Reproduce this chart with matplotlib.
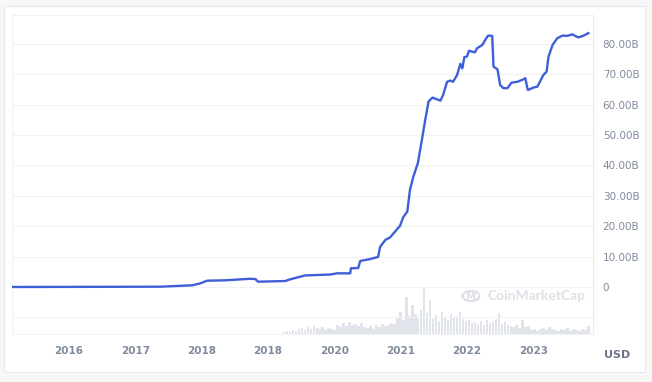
#!/usr/bin/env python3
# Market cap chart (CoinMarketCap style): line for market cap, light bars for volume.
import matplotlib

matplotlib.use("Agg")
import matplotlib.pyplot as plt
from matplotlib.patches import Circle, FancyBboxPatch
import numpy as np

# Market cap (billions USD) against fractional year
cap_t = [2015.15, 2017.37, 2017.86, 2017.98, 2018.08, 2018.35, 2018.58, 2018.73, 2018.81, 2018.85,
         2019.26, 2019.33, 2019.56, 2019.94, 2020.04, 2020.24, 2020.25, 2020.36, 2020.39, 2020.54,
         2020.66, 2020.69, 2020.77, 2020.84, 2020.95, 2020.99, 2021.04, 2021.10, 2021.14, 2021.19,
         2021.26, 2021.32, 2021.37, 2021.42, 2021.48, 2021.60, 2021.64, 2021.70, 2021.75, 2021.79,
         2021.85, 2021.90, 2021.93, 2021.96, 2022.00, 2022.03, 2022.12, 2022.15, 2022.23, 2022.29,
         2022.32, 2022.38, 2022.40, 2022.46, 2022.50, 2022.55, 2022.61, 2022.67, 2022.76, 2022.85,
         2022.88, 2022.91, 2022.92, 2023.00, 2023.06, 2023.10, 2023.15, 2023.20, 2023.23, 2023.29,
         2023.36, 2023.44, 2023.51, 2023.59, 2023.63, 2023.68, 2023.75, 2023.83]
cap_b = [0.0, 0.1, 0.56, 1.2, 2.07, 2.2, 2.5, 2.7, 2.6, 1.74,
         1.97, 2.5, 3.8, 4.1, 4.5, 4.5, 6.15, 6.25, 8.55, 9.2,
         9.9, 13.2, 15.5, 16.3, 19.1, 20.1, 23.0, 24.8, 31.9, 36.2,
         40.8, 48.4, 54.9, 61.0, 62.3, 61.3, 63.2, 67.5, 67.9, 67.5,
         69.7, 73.4, 71.9, 75.6, 75.8, 77.7, 77.2, 78.5, 79.6, 81.8,
         82.7, 82.6, 72.5, 71.6, 66.4, 65.4, 65.4, 67.2, 67.5, 68.3,
         68.7, 65.4, 64.8, 65.6, 65.9, 67.5, 69.7, 70.8, 75.8, 79.6,
         81.8, 82.7, 82.6, 83.1, 82.6, 82.1, 82.6, 83.5]

# Trading volume (billions USD), evenly spaced from 2019.24 to 2023.83
vol_start, vol_end = 2019.24, 2023.83
vol_b = [4, 6, 4, 8, 6,
         10, 12, 8, 14, 10, 16, 12, 10, 14, 8, 12, 10, 8,
         18, 14, 22, 16, 24, 18, 20, 16, 22, 14,
         12, 16, 10, 18, 14, 20, 16, 18, 22, 20,
         32, 44, 28, 74, 36, 58, 40, 34, 48, 94, 42, 68,
         30, 38, 26, 44, 34, 28, 40, 32, 36, 44, 30, 26, 28,
         22, 24, 20, 26, 18, 28, 22, 24, 30, 42, 20, 24, 18,
         16, 14, 18, 12, 28, 14, 16,
         8, 10, 6, 10, 12, 8, 14, 10, 8, 6, 10, 8, 12, 6, 10, 8, 6, 10, 8, 16]

y_ticks = [-10, 0, 10, 20, 30, 40, 50, 60, 70, 80]
y_labels = ["", "0", "10.00B", "20.00B", "30.00B", "40.00B", "50.00B", "60.00B", "70.00B", "80.00B"]
x_ticks = [2016, 2017, 2018, 2019, 2020, 2021, 2022, 2023]
x_labels = ["2016", "2017", "2018", "2018", "2020", "2021", "2022", "2023"]

LINE_COLOR = "#3f5fd8"
TEXT_COLOR = "#808a9d"
GRID_COLOR = "#f1f2f4"

fig = plt.figure(figsize=(6.52, 3.82), dpi=100)
fig.patch.set_facecolor("#f7f7f8")

# white card behind the chart
card = FancyBboxPatch((4 / 652, 10 / 382), 641 / 652, 366 / 382,
                      boxstyle="square,pad=0", transform=fig.transFigure,
                      facecolor="#ffffff", edgecolor="#e6e8ec", linewidth=0.8, zorder=-5)
fig.patches.append(card)

ax = fig.add_axes([12 / 652, 1 - 334 / 382, 581 / 652, 319 / 382])
ax.set_facecolor("none")

# volume bars on a hidden twin axis
axv = ax.twinx()
vol_t = np.linspace(vol_start, vol_end, len(vol_b))
axv.bar(vol_t, vol_b, width=(vol_end - vol_start) / len(vol_b) * 0.85,
        color="#e1e4ea", linewidth=0, zorder=1)
axv.set_ylim(0, 638)
axv.set_yticks([])
for side in ["top", "right", "left", "bottom"]:
    axv.spines[side].set_visible(False)

ax.set_zorder(axv.get_zorder() + 1)
ax.plot(cap_t, cap_b, color=LINE_COLOR, linewidth=1.7, solid_joinstyle="round", zorder=3)

ax.set_xlim(2015.14, 2023.90)
ax.set_ylim(-15.46, 89.47)
ax.set_xticks(x_ticks)
ax.set_xticklabels(x_labels, fontsize=7.5, fontweight="semibold", color=TEXT_COLOR)
ax.yaxis.tick_right()
ax.set_yticks(y_ticks)
ax.set_yticklabels(y_labels, fontsize=7.5, color=TEXT_COLOR, ha="left")
ax.tick_params(axis="x", length=0, pad=9)
ax.tick_params(axis="y", length=0, pad=7)
ax.grid(axis="y", color=GRID_COLOR, linewidth=0.8)
ax.set_axisbelow(True)
for side in ["top", "left", "bottom"]:
    ax.spines[side].set_color("#f1f2f4")
    ax.spines[side].set_linewidth(0.8)
ax.spines["right"].set_color("#e8eaee")
ax.spines["right"].set_linewidth(0.8)

fig.text(617 / 652, 1 - 355 / 382, "USD", fontsize=8, fontweight="bold",
         color="#6b7588", ha="center", va="center")

# watermark
logo = Circle((471 / 652, 1 - 296 / 382), 8.5 / 652, transform=fig.transFigure,
              facecolor="none", edgecolor="#dde0e6", linewidth=1.6, zorder=5)
fig.patches.append(logo)
fig.text(471 / 652, 1 - 296.5 / 382, "M", fontsize=7.5, fontweight="bold",
         color="#dde0e6", ha="center", va="center")
fig.text(487 / 652, 1 - 296 / 382, "CoinMarketCap", fontsize=10, fontweight="bold",
         family="Lato", color="#dde0e6", ha="left", va="center")

fig.savefig("out.png", dpi=100)
